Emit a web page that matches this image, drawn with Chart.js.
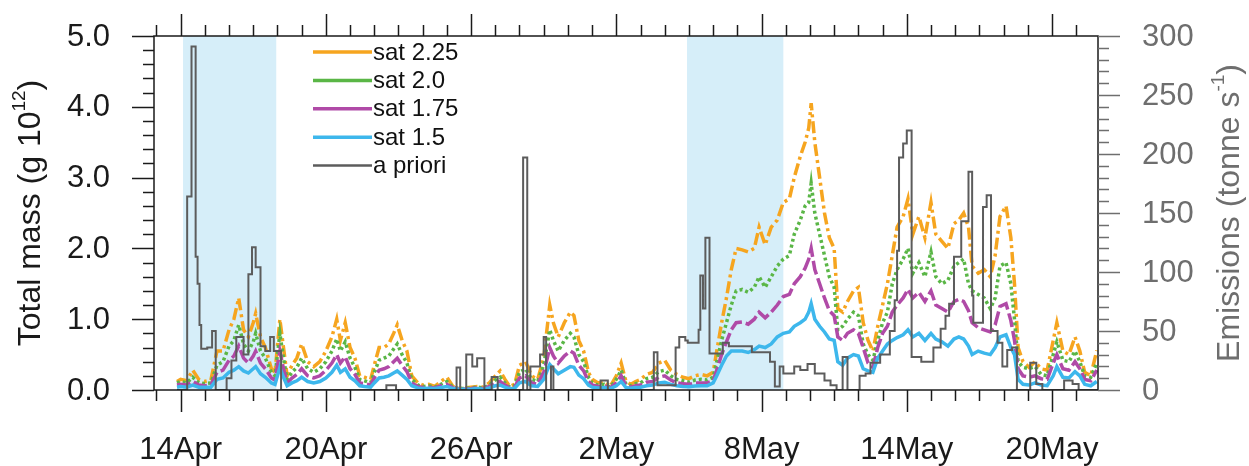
<!DOCTYPE html>
<html>
<head>
<meta charset="utf-8">
<script src="https://cdn.jsdelivr.net/npm/chart.js@4.4.1/dist/chart.umd.min.js"></script>
<style>
  html, body { margin: 0; padding: 0; background: #fff; }
  #wrap { width: 1249px; height: 466px; }
</style>
</head>
<body>
<div id="wrap"><canvas id="massChart" width="1249" height="466"></canvas></div>
<script>
// Time axis: days since 14 Apr 00:00
const massTimes = [
  -0.15, 0, 0.25, 0.5, 0.75, 1.0, 1.25, 1.5, 1.75, 2.0,
  2.2, 2.4, 2.6, 2.8, 3.0, 3.1, 3.3, 3.5, 3.75, 3.9,
  4.1, 4.25, 4.4, 4.6, 4.8, 5.0, 5.25, 5.5, 5.75, 6.0,
  6.25, 6.45, 6.6, 6.8, 7.0, 7.2, 7.4, 7.6, 7.85, 8.0,
  8.2, 8.4, 8.6, 8.8, 8.95, 9.15, 9.35, 9.55, 9.8, 10.0,
  10.25, 10.5, 10.75, 11.0, 11.25, 11.5, 11.75, 12.0, 12.25, 12.5,
  12.75, 13.0, 13.2, 13.4, 13.6, 13.8, 14.0, 14.25, 14.5, 14.75,
  15.0, 15.15, 15.25, 15.4, 15.6, 15.85, 16.1, 16.25, 16.45, 16.65,
  16.85, 17.0, 17.25, 17.5, 17.75, 18.0, 18.2, 18.4, 18.6, 18.8,
  19.0, 19.25, 19.5, 19.75, 20.0, 20.25, 20.5, 20.75, 21.0, 21.25,
  21.5, 21.75, 22.0, 22.15, 22.35, 22.55, 22.75, 22.95, 23.2, 23.45,
  23.7, 23.9, 24.15, 24.4, 24.65, 24.9, 25.15, 25.35, 25.6, 25.8,
  25.95, 26.05, 26.2, 26.4, 26.6, 26.8, 27.0, 27.15, 27.35, 27.55,
  27.8, 28.0, 28.2, 28.4, 28.6, 28.8, 29.0, 29.2, 29.4, 29.6,
  29.85, 30.05, 30.25, 30.5, 30.75, 31.0, 31.2, 31.45, 31.7, 31.95,
  32.15, 32.35, 32.55, 32.7, 32.95, 33.2, 33.45, 33.65, 33.85, 34.1,
  34.3, 34.45, 34.6, 34.8, 35.05, 35.3, 35.55, 35.8, 36.05, 36.2,
  36.45, 36.7, 36.95, 37.15, 37.35, 37.6, 37.85
];

// Total mass (g 10^12)
const sat225 = [
  0.12, 0.15, 0.13, 0.28, 0.15, 0.12, 0.14, 0.55, 0.55, 0.85,
  1.0, 1.3, 0.85, 0.75, 0.95, 1.08, 0.75, 0.6, 0.3, 0.25,
  1.0, 0.6, 0.2, 0.35, 0.45, 0.65, 0.4, 0.33, 0.4, 0.55,
  0.75, 1.0, 0.7, 0.95, 0.6, 0.45, 0.2, 0.18, 0.15, 0.35,
  0.6, 0.6, 0.65, 0.8, 0.92, 0.7, 0.55, 0.2, 0.1, 0.07,
  0.08, 0.05, 0.12, 0.18, 0.05, 0.03, 0.03, 0.04, 0.05, 0.04,
  0.1, 0.2, 0.27, 0.15, 0.05, 0.08, 0.35, 0.4, 0.2, 0.15,
  0.45, 0.9, 1.2, 0.95, 0.75, 0.95, 1.1, 1.05, 0.7, 0.55,
  0.25, 0.15, 0.1, 0.12, 0.05, 0.2, 0.38, 0.12, 0.08, 0.12,
  0.15, 0.22, 0.25, 0.38, 0.42, 0.28, 0.22, 0.18, 0.16, 0.2,
  0.22, 0.2, 0.25, 0.55, 0.95, 1.3, 1.7, 2.0, 1.98, 1.95,
  2.0, 2.3, 2.05, 2.3, 2.4, 2.65, 2.7, 3.0, 3.3, 3.5,
  3.7, 4.05, 3.5, 3.0, 2.5, 2.15, 2.0, 1.15, 1.1, 1.25,
  1.4, 1.45, 0.95, 0.7, 0.55, 0.9, 1.2, 1.5, 1.9, 2.3,
  2.45, 2.7, 2.2, 2.45, 2.15, 2.65, 2.2, 2.1, 2.0, 2.35,
  2.4, 2.5, 2.3, 1.75, 1.65, 1.7, 1.6, 1.9, 2.45, 2.6,
  2.15, 1.5, 0.6, 0.4, 0.32, 0.4, 0.3, 0.28, 0.7, 0.95,
  0.55, 0.5, 0.75, 0.55, 0.25, 0.2, 0.56
];
const sat20 = [
  0.1, 0.12, 0.1, 0.18, 0.1, 0.09, 0.1, 0.35, 0.4, 0.62,
  0.7, 0.92, 0.65, 0.55, 0.68, 0.8, 0.55, 0.45, 0.25, 0.2,
  0.8, 0.45, 0.15, 0.25, 0.32, 0.45, 0.3, 0.25, 0.3, 0.4,
  0.55, 0.72, 0.55, 0.68, 0.45, 0.32, 0.15, 0.13, 0.1, 0.25,
  0.42, 0.45, 0.48, 0.58, 0.65, 0.5, 0.38, 0.15, 0.07, 0.05,
  0.06, 0.04, 0.08, 0.12, 0.04, 0.02, 0.02, 0.03, 0.04, 0.03,
  0.07, 0.14, 0.18, 0.1, 0.04, 0.06, 0.25, 0.3, 0.15, 0.12,
  0.35, 0.65, 0.85, 0.7, 0.55, 0.7, 0.8, 0.75, 0.5, 0.4,
  0.18, 0.1, 0.07, 0.08, 0.04, 0.15, 0.28, 0.08, 0.06, 0.09,
  0.1, 0.16, 0.18, 0.26, 0.28, 0.2, 0.15, 0.13, 0.11, 0.14,
  0.15, 0.14, 0.18, 0.4, 0.7, 0.95, 1.2, 1.4, 1.42, 1.38,
  1.45, 1.6, 1.45, 1.6, 1.75, 1.85, 1.9, 2.2, 2.4, 2.6,
  2.65, 2.92, 2.5, 2.2, 1.9, 1.6, 1.45, 0.85, 0.9, 1.0,
  1.1, 1.05, 0.65, 0.5, 0.42, 0.7, 0.95, 1.1, 1.5, 1.7,
  1.85, 2.0, 1.65, 1.8, 1.6, 1.95, 1.6, 1.5, 1.55, 1.75,
  1.8, 1.85, 1.5, 1.4, 1.35, 1.3, 1.15, 1.3, 1.75, 1.8,
  1.5, 1.0, 0.4, 0.32, 0.3, 0.33, 0.22, 0.2, 0.5, 0.68,
  0.42, 0.4, 0.55, 0.4, 0.2, 0.18, 0.38
];
const sat175 = [
  0.07, 0.08, 0.07, 0.12, 0.07, 0.06, 0.07, 0.25, 0.28, 0.42,
  0.48, 0.62, 0.45, 0.38, 0.48, 0.55, 0.38, 0.3, 0.17, 0.14,
  0.55, 0.3, 0.1, 0.17, 0.22, 0.3, 0.2, 0.17, 0.2, 0.28,
  0.38, 0.5, 0.38, 0.47, 0.3, 0.22, 0.1, 0.09, 0.07, 0.17,
  0.28, 0.3, 0.33, 0.4, 0.45, 0.35, 0.26, 0.1, 0.05, 0.035,
  0.04, 0.03, 0.06, 0.08, 0.03, 0.015, 0.015, 0.02, 0.03, 0.02,
  0.05, 0.1, 0.12, 0.07, 0.03, 0.04, 0.17, 0.2, 0.1, 0.08,
  0.25, 0.45, 0.6, 0.48, 0.38, 0.48, 0.55, 0.52, 0.35, 0.27,
  0.12, 0.07, 0.05, 0.06, 0.03, 0.1, 0.2, 0.06, 0.04, 0.06,
  0.07, 0.11, 0.12, 0.18, 0.2, 0.14, 0.1, 0.09, 0.08, 0.1,
  0.1, 0.1, 0.13, 0.28, 0.5, 0.68, 0.85, 0.95, 0.96, 0.93,
  1.0, 1.1, 1.02, 1.1, 1.2, 1.32, 1.35, 1.5, 1.6, 1.72,
  1.85, 2.0, 1.7, 1.5, 1.3, 1.12, 1.05, 0.75, 0.7, 0.8,
  0.85, 0.8, 0.6, 0.38, 0.32, 0.6, 0.8, 0.9, 1.1, 1.2,
  1.3, 1.42, 1.3, 1.38, 1.25, 1.4, 1.2, 1.15, 1.1, 1.25,
  1.28, 1.25, 1.12, 0.95, 0.88, 0.85, 0.82, 0.92, 1.18, 1.22,
  0.98, 0.7, 0.3, 0.2, 0.18, 0.2, 0.16, 0.15, 0.38, 0.5,
  0.3, 0.28, 0.4, 0.3, 0.15, 0.13, 0.28
];
const sat15 = [
  0.04, 0.05, 0.04, 0.07, 0.04, 0.04, 0.04, 0.15, 0.17, 0.25,
  0.28, 0.33, 0.27, 0.24, 0.3, 0.33, 0.23, 0.18, 0.1, 0.08,
  0.32, 0.18, 0.06, 0.1, 0.13, 0.18, 0.12, 0.1, 0.12, 0.17,
  0.25, 0.35, 0.25, 0.3, 0.18, 0.13, 0.06, 0.05, 0.04, 0.1,
  0.17, 0.18, 0.2, 0.24, 0.27, 0.21, 0.15, 0.06, 0.03, 0.02,
  0.025, 0.02, 0.035, 0.05, 0.02, 0.01, 0.01, 0.01, 0.02, 0.01,
  0.03, 0.06, 0.07, 0.04, 0.02, 0.025, 0.1, 0.12, 0.06, 0.05,
  0.15, 0.28, 0.36, 0.3, 0.23, 0.28, 0.33, 0.32, 0.21, 0.16,
  0.07, 0.04, 0.03, 0.035, 0.02, 0.06, 0.12, 0.035, 0.025, 0.035,
  0.04, 0.06, 0.07, 0.1, 0.11, 0.08, 0.06, 0.05, 0.045, 0.055,
  0.06, 0.06, 0.1, 0.2, 0.35, 0.48, 0.55, 0.55, 0.55, 0.53,
  0.57, 0.62, 0.6, 0.65, 0.75, 0.8, 0.82, 0.9, 0.95, 1.0,
  1.1, 1.22, 1.0, 0.9, 0.82, 0.72, 0.7, 0.4, 0.35, 0.45,
  0.5, 0.48, 0.3, 0.27, 0.25, 0.45, 0.55, 0.65, 0.7, 0.74,
  0.78, 0.85, 0.75, 0.8, 0.7, 0.8, 0.72, 0.68, 0.62, 0.72,
  0.75, 0.72, 0.62, 0.5, 0.55, 0.52, 0.5, 0.6, 0.75, 0.78,
  0.6, 0.5, 0.15, 0.08, 0.07, 0.1, 0.07, 0.06, 0.2, 0.33,
  0.18, 0.17, 0.26, 0.2, 0.08, 0.06, 0.12
];

// A priori emissions (tonne/s), each value holds until the next time
const aprioriTimes = [
  -0.15, 0.27, 0.45, 0.62, 0.7, 0.78, 0.85, 1.1, 1.3, 1.45,
  1.9, 2.1, 2.3, 2.6, 2.8, 2.95, 3.1, 3.3, 3.5, 3.7,
  3.85, 4.15, 8.5, 8.9, 11.4, 11.55, 11.8, 12.05, 12.25, 12.55,
  12.85, 13.1, 14.15, 14.32, 14.45, 14.85, 15.0, 15.1, 15.3, 15.4,
  17.35, 17.65, 19.55, 19.7, 20.45, 20.6, 20.85, 20.95, 21.4, 21.47,
  21.58, 21.68, 21.85, 22.4, 22.65, 23.6, 24.35, 24.55, 24.75, 24.9,
  25.35, 25.6, 25.9, 26.2, 26.6, 26.85, 27.1, 27.35, 27.55, 28.05,
  28.3, 28.5, 28.9, 29.3, 29.5, 29.6, 29.68, 29.85, 30.0, 30.2,
  30.6, 31.1, 31.4, 31.6, 31.75, 31.95, 32.25, 32.55, 32.7, 32.75,
  33.15, 33.3, 33.48, 33.75, 33.95, 34.15, 34.35, 34.55, 35.1, 35.35,
  35.6, 36.5, 36.85, 37.1, 37.9
];
const aprioriEmis = [
  0, 164, 291, 113, 90, 55, 35, 36, 50, 0,
  10, 25, 45, 30, 98, 121, 104, 37, 33, 45,
  33, 0, 4, 0, 19, 0, 30, 20, 27, 0,
  11, 0, 197, 0, 20, 30, 45, 0, 20, 0,
  8, 0, 32, 4, 36, 45, 42, 40, 51, 97,
  69, 129, 31, 40, 37, 32, 24, 3, 20, 14,
  20, 17, 22, 14, 8, 4, 0, 28, 0, 12,
  14, 23, 30, 50, 76, 118, 197, 209, 220, 28,
  24, 36, 52, 63, 73, 113, 143, 185, 80, 57,
  155, 165, 50, 40, 20, 34, 36, 0, 23, 5,
  0, 8, 5, 0, 0
];

// Shaded periods (days)
const shadeStart = [0.1, 20.92];
const shadeEnd = [3.95, 24.9];

// Axis ticks
const xTickDays = [0, 6, 12, 18, 24, 30, 36];
const xTickLabels = ['14Apr', '20Apr', '26Apr', '2May', '8May', '14May', '20May'];
const massTicks = [0, 1, 2, 3, 4, 5];
const emisTicks = [0, 50, 100, 150, 200, 250, 300];

const legendOrder = ['sat 2.25', 'sat 2.0', 'sat 1.75', 'sat 1.5', 'a priori'];

const FONT = '"Liberation Sans", Arial, Helvetica, sans-serif';
const INK = '#1a1a1a';
const GREY = '#6e6e6e';

const pts = (xs, ys) => xs.map((t, i) => ({ x: t, y: ys[i] }));

const line = (label, data, color, dash, yAxisID) => ({
  label,
  data,
  yAxisID,
  borderColor: color,
  borderWidth: 3.5,
  borderDash: dash,
  pointRadius: 0,
  tension: 0,
  fill: false
});

function drawTick(ctx, x1, y1, x2, y2) {
  ctx.beginPath();
  ctx.moveTo(x1, y1);
  ctx.lineTo(x2, y2);
  ctx.stroke();
}

// Rotated axis title with a superscript part
function drawTitle(ctx, cx, cy, main, sup, tail, color) {
  const big = '32px ' + FONT;
  const small = '19px ' + FONT;
  ctx.save();
  ctx.translate(cx, cy);
  ctx.rotate(-Math.PI / 2);
  ctx.fillStyle = color;
  ctx.textBaseline = 'middle';
  ctx.textAlign = 'left';
  ctx.font = big;
  const w1 = ctx.measureText(main).width;
  const w3 = ctx.measureText(tail).width;
  ctx.font = small;
  const w2 = ctx.measureText(sup).width;
  let x = -(w1 + w2 + w3) / 2;
  ctx.font = big;
  ctx.fillText(main, x, 0);
  x += w1;
  ctx.font = small;
  ctx.fillText(sup, x, -11);
  x += w2;
  ctx.font = big;
  ctx.fillText(tail, x, 0);
  ctx.restore();
}

const decor = {
  id: 'decor',
  beforeDatasetsDraw(chart) {
    const { ctx, chartArea: a, scales } = chart;
    ctx.save();
    ctx.fillStyle = '#d6eef9';
    shadeStart.forEach((s, i) => {
      const x0 = Math.max(scales.x.getPixelForValue(s), a.left);
      const x1 = Math.min(scales.x.getPixelForValue(shadeEnd[i]), a.right);
      ctx.fillRect(x0, a.top, x1 - x0, a.bottom - a.top);
    });
    ctx.restore();
  },
  afterDraw(chart) {
    const { ctx, chartArea: a, scales } = chart;
    const { x, yMass, yEmis } = scales;
    ctx.save();
    ctx.lineCap = 'butt';

    // frame
    ctx.strokeStyle = INK;
    ctx.lineWidth = 1.5;
    ctx.strokeRect(a.left, a.top, a.right - a.left, a.bottom - a.top);

    // time ticks, bottom and top
    for (let d = Math.ceil(x.min); d <= Math.floor(x.max); d++) {
      const px = Math.round(x.getPixelForValue(d)) + 0.5;
      const len = xTickDays.includes(d) ? 22 : 11;
      drawTick(ctx, px, a.bottom, px, a.bottom + len);
      drawTick(ctx, px, a.top, px, a.top - len);
    }
    ctx.fillStyle = INK;
    ctx.font = '31px ' + FONT;
    ctx.textAlign = 'center';
    ctx.textBaseline = 'alphabetic';
    xTickDays.forEach((d, i) => {
      ctx.fillText(xTickLabels[i], x.getPixelForValue(d), 459);
    });

    // left axis
    for (let k = 0; k <= 25; k++) {
      const py = Math.round(yMass.getPixelForValue(k * 0.2)) + 0.5;
      drawTick(ctx, a.left, py, a.left - (k % 5 === 0 ? 22 : 11), py);
    }
    ctx.textAlign = 'right';
    ctx.textBaseline = 'middle';
    massTicks.forEach(v => {
      ctx.fillText(v.toFixed(1), 110, yMass.getPixelForValue(v) + 1);
    });

    // right axis
    ctx.strokeStyle = GREY;
    ctx.fillStyle = GREY;
    for (let k = 0; k <= 30; k++) {
      const py = Math.round(yEmis.getPixelForValue(k * 10)) + 0.5;
      drawTick(ctx, a.right, py, a.right + (k % 5 === 0 ? 22 : 11), py);
    }
    ctx.textAlign = 'left';
    emisTicks.forEach(v => {
      ctx.fillText(String(v), 1142, yEmis.getPixelForValue(v) + 1);
    });

    const midY = (a.top + a.bottom) / 2;
    drawTitle(ctx, 31, midY, 'Total mass (g 10', '12', ')', INK);
    drawTitle(ctx, 1230, midY, 'Emissions (tonne s', '-1', ')', GREY);

    // legend
    ctx.font = '24px ' + FONT;
    ctx.textAlign = 'left';
    ctx.textBaseline = 'middle';
    legendOrder.forEach((name, i) => {
      const ds = chart.data.datasets.find(s => s.label === name);
      const y = 52 + i * 28.4;
      ctx.strokeStyle = ds.borderColor;
      ctx.lineWidth = name === 'a priori' ? 2.5 : 3.5;
      ctx.setLineDash([]);
      drawTick(ctx, 313, y, 372, y);
      ctx.fillStyle = '#111';
      ctx.fillText(name, 373, y + 1);
    });
    ctx.restore();
  }
};

new Chart(document.getElementById('massChart'), {
  type: 'line',
  data: {
    datasets: [
      {
        label: 'a priori',
        data: pts(aprioriTimes, aprioriEmis),
        yAxisID: 'yEmis',
        borderColor: '#5c5c5c',
        borderWidth: 2,
        stepped: true,
        pointRadius: 0,
        fill: false
      },
      line('sat 1.5', pts(massTimes, sat15), '#3db7ec', [], 'yMass'),
      line('sat 1.75', pts(massTimes, sat175), '#b04aa7', [14, 4], 'yMass'),
      line('sat 2.0', pts(massTimes, sat20), '#5ab646', [3, 3], 'yMass'),
      line('sat 2.25', pts(massTimes, sat225), '#f6a51f', [12, 4, 3, 4], 'yMass')
    ]
  },
  options: {
    responsive: false,
    devicePixelRatio: 1,
    animation: false,
    layout: { padding: { left: 154, right: 151, top: 36, bottom: 76 } },
    plugins: { legend: { display: false }, tooltip: { enabled: false } },
    scales: {
      x: { type: 'linear', min: -1.1, max: 37.9, display: false },
      yMass: { type: 'linear', position: 'left', min: 0, max: 5, display: false },
      yEmis: { type: 'linear', position: 'right', min: 0, max: 300, display: false }
    }
  },
  plugins: [decor]
});
</script>
</body>
</html>
